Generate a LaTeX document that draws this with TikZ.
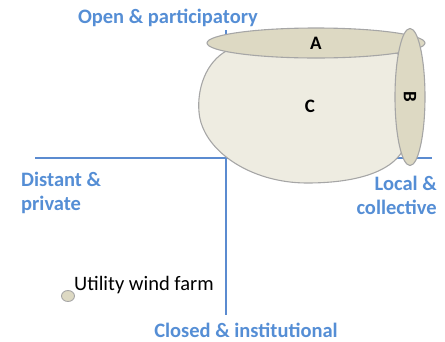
\documentclass[tikz,border=0pt]{standalone}
\usepackage{fontspec}
\setmainfont{Carlito}
\usetikzlibrary{shapes.geometric}
\definecolor{axisblue}{HTML}{5B8BD0}
\definecolor{labelblue}{HTML}{558ED5}
\definecolor{tanlight}{HTML}{EEECE1}
\definecolor{tandark}{HTML}{DDD9C3}
\definecolor{edgegray}{HTML}{A6A6A6}
\begin{document}
\begin{tikzpicture}[x=1pt,y=-1pt,
  axis/.style={draw=axisblue,line width=1.8pt},
  axislabel/.style={text=labelblue,font=\fontsize{20.5}{24}\selectfont\bfseries,inner sep=0pt},
  blob/.style={draw=edgegray,line width=1.1pt},
  letter/.style={font=\fontsize{19}{22}\selectfont\bfseries,inner sep=0pt}]
\useasboundingbox (0,0) rectangle (445,341);
% axes
\coordinate (xl) at (35,158);
\coordinate (xr) at (432,158);
\coordinate (yt) at (226,30);
\coordinate (yb) at (226,315);
\draw[axis] (xl) -- (xr);
\draw[axis] (yt) -- (yb);
% axis labels
\node[axislabel,anchor=center] (open) at (168,18) {Open \& participatory};
\node[axislabel,anchor=center] (closed) at (246,330) {Closed \& institutional};
\node[axislabel,anchor=west,align=left] (distant) at (21,193) {Distant \&\\private};
\node[axislabel,anchor=east,align=right] (local) at (437,195) {Local \&\\collective};
% region C
\path[blob,fill=tanlight] (228,50) .. controls (205,62) and (197,90) .. (199,112)
  .. controls (202,150) and (250,183) .. (307,183)
  .. controls (360,183) and (400,170) .. (407,140)
  .. controls (410,110) and (408,75) .. (400,55)
  .. controls (380,42) and (260,38) .. (228,50) -- cycle;
\node[letter] (c) at (310,106) {C};
% region A
\node[blob,fill=tandark,ellipse,minimum width=218pt,minimum height=30pt,inner sep=0pt] (a) at (316,43) {};
\node[letter] at (a.center) {A};
% region B
\node[blob,fill=tandark,ellipse,minimum width=30pt,minimum height=137pt,inner sep=0pt] (b) at (410,97) {};
\node[letter,rotate=-90] at (b.center) {B};
% utility wind farm
\node[blob,fill=tandark,ellipse,minimum width=13pt,minimum height=11pt,inner sep=0pt,line width=0.9pt] (farm) at (68,296) {};
\node[anchor=west,font=\fontsize{20.5}{24}\selectfont,inner sep=0pt] (farmlabel) at (74,285) {Utility wind farm};
\end{tikzpicture}
\end{document}
